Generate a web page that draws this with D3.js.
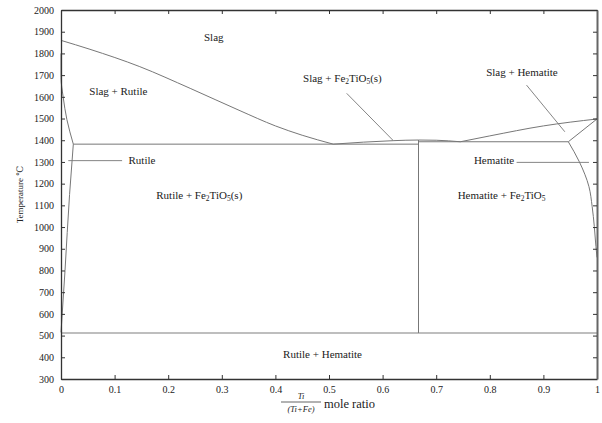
<!DOCTYPE html>
<html>
<head>
<meta charset="utf-8">
<script src="https://cdn.jsdelivr.net/npm/d3@7"></script>
<style>
  html, body { margin: 0; padding: 0; background: #fff; }
  svg { display: block; }
  svg text { font-family: "Liberation Serif", "DejaVu Serif", serif !important; fill: #222; }
</style>
</head>
<body>
<svg id="chart" width="602" height="423"></svg>
<script>
// Fe2O3–TiO2 phase diagram: x = Ti/(Ti+Fe) mole ratio, y = temperature (°C)

const xTickValues = [0, 0.1, 0.2, 0.3, 0.4, 0.5, 0.6, 0.7, 0.8, 0.9, 1];
const xTickLabels = ["0", "0.1", "0.2", "0.3", "0.4", "0.5", "0.6", "0.7", "0.8", "0.9", "1"];
const yTickValues = [300, 400, 500, 600, 700, 800, 900, 1000, 1100, 1200, 1300, 1400, 1500, 1600, 1700, 1800, 1900, 2000];

// Liquidus on the rutile side, down to the eutectic
const liquidusRutile = [[0, 1860], [0.054, 1819], [0.147, 1739], [0.241, 1639], [0.334, 1536], [0.4, 1466], [0.45, 1423], [0.508, 1382]];
// Liquidus across Fe2TiO5 and up to pure hematite
const liquidusMid = [[0.508, 1382], [0.62, 1398], [0.667, 1401], [0.70, 1400], [0.745, 1393]];
const liquidusHematite = [[0.745, 1393], [0.8, 1420], [0.9, 1466], [1.0, 1498]];
// Rutile solid solution boundary
const rutileUpper = [[0, 1800], [0, 1690], [0.004, 1600], [0.011, 1495], [0.023, 1382]];
const rutileLower = [[0.023, 1382], [0.0205, 1300], [0.016, 1150], [0.0075, 800], [0, 515]];
// Hematite solid solution boundary
const hematiteUpper = [[0.9465, 1393], [1.0, 1498]];
const hematiteLower = [[0.9465, 1393], [0.967, 1301], [0.985, 1186], [0.991, 1094], [0.995, 1002], [0.998, 910], [1.0, 860]];
// Invariant lines
const isoRutile = [[0.023, 1382], [0.667, 1382]];
const isoHematite = [[0.667, 1393], [0.9465, 1393]];
const fe2tio5Line = [[0.667, 1401], [0.667, 512]];
const lowIso = [[0, 512], [1, 512]];

// Region labels; parts are [text, isSubscript]
const regionLabels = [
  { x: 0.285, T: 1871, parts: [["Slag", false]] },
  { x: 0.107, T: 1622, parts: [["Slag + Rutile", false]] },
  { x: 0.525, T: 1680, parts: [["Slag + Fe", false], ["2", true], ["TiO", false], ["5", true], ["(s)", false]] },
  { x: 0.86, T: 1712, parts: [["Slag + Hematite", false]] },
  { x: 0.151, T: 1306, parts: [["Rutile", false]] },
  { x: 0.808, T: 1306, parts: [["Hematite", false]] },
  { x: 0.258, T: 1143, parts: [["Rutile + Fe", false], ["2", true], ["TiO", false], ["5", true], ["(s)", false]] },
  { x: 0.822, T: 1143, parts: [["Hematite + Fe", false], ["2", true], ["TiO", false], ["5", true]] },
  { x: 0.488, T: 412, parts: [["Rutile + Hematite", false]] }
];
// Leader lines from labels to their regions
const leaders = [
  [[0.0136, 1306], [0.114, 1306]],
  [[0.85, 1298], [0.985, 1298]],
  [[0.533, 1616], [0.620, 1398]],
  [[0.8685, 1654], [0.940, 1439]]
];

const svg = d3.select("#chart");
const x = d3.scaleLinear().domain([0, 1]).range([61, 597]);
const y = d3.scaleLinear().domain([300, 2000]).range([379, 10]);

const line = d3.line().x(d => x(d[0])).y(d => y(d[1]));
const smoothX = d3.line().x(d => x(d[0])).y(d => y(d[1])).curve(d3.curveMonotoneX);
const smoothY = d3.line().x(d => x(d[0])).y(d => y(d[1])).curve(d3.curveMonotoneY);

const g = svg.append("g").attr("fill", "none");
function path(data, gen, stroke, width) {
  g.append("path").datum(data).attr("d", gen).attr("stroke", stroke).attr("stroke-width", width).attr("fill", "none");
}

// Phase boundaries
const lineColor = "#777";
path(lowIso, line, "#a8a8a8", 1.5);
path(isoRutile, line, lineColor, 1);
path(isoHematite, line, lineColor, 1);
path(fe2tio5Line, line, lineColor, 1);
path(liquidusRutile, smoothX, lineColor, 1);
path(liquidusMid, smoothX, lineColor, 1);
path(liquidusHematite, smoothX, lineColor, 1);
path(rutileUpper, smoothY, lineColor, 1);
path(rutileLower, smoothY, lineColor, 1);
path(hematiteUpper, line, lineColor, 1);
path(hematiteLower, smoothY, lineColor, 1);
leaders.forEach(l => path(l, line, lineColor, 0.9));

// Axes with inward ticks on all four sides
const tickLen = -4;
const axisColor = "#333";
const axisB = svg.append("g").attr("transform", `translate(0,${y(300)})`)
  .call(d3.axisBottom(x).tickValues(xTickValues).tickFormat((d, i) => xTickLabels[i]).tickSizeInner(tickLen).tickSizeOuter(0).tickPadding(7));
const axisL = svg.append("g").attr("transform", `translate(${x(0)},0)`)
  .call(d3.axisLeft(y).tickValues(yTickValues).tickFormat(d3.format("d")).tickSizeInner(tickLen).tickSizeOuter(0).tickPadding(7));
const axisT = svg.append("g").attr("transform", `translate(0,${y(2000)})`)
  .call(d3.axisTop(x).tickValues(xTickValues).tickFormat("").tickSizeInner(tickLen).tickSizeOuter(0));
const axisR = svg.append("g").attr("transform", `translate(${x(1)},0)`)
  .call(d3.axisRight(y).tickValues(yTickValues).tickFormat("").tickSizeInner(tickLen).tickSizeOuter(0));
[axisB, axisL, axisT, axisR].forEach(a => {
  a.attr("font-family", null);
  a.selectAll("path.domain").attr("stroke", axisColor).attr("stroke-width", 1.3);
  a.selectAll(".tick line").attr("stroke", axisColor).attr("stroke-width", 1);
  a.selectAll(".tick text").attr("font-size", 10).attr("fill", "#222");
});
axisR.selectAll("path.domain").attr("stroke", "#666").attr("stroke-width", 2);

// Region labels
const labelGroup = svg.append("g");
regionLabels.forEach(r => {
  const t = labelGroup.append("text")
    .attr("x", x(r.x)).attr("y", y(r.T))
    .attr("text-anchor", "middle").attr("dominant-baseline", "middle")
    .attr("font-size", 11);
  r.parts.forEach(([s, sub], i) => {
    const prevSub = i > 0 && r.parts[i - 1][1];
    t.append("tspan").text(s)
      .attr("font-size", sub ? 7.5 : 11)
      .attr("dy", sub ? 2.5 : (prevSub ? -2.5 : 0));
  });
});

// Y axis title
svg.append("text")
  .attr("transform", `translate(21,${y(1150)}) rotate(-90)`)
  .attr("text-anchor", "middle").attr("dominant-baseline", "middle")
  .attr("font-size", 9).text("Temperature ℃");

// X axis title: Ti/(Ti+Fe) fraction followed by "mole ratio"
const fracX = 301;
svg.append("text").attr("x", fracX).attr("y", 399).attr("text-anchor", "middle")
  .attr("font-size", 8.5).attr("font-style", "italic").text("Ti");
svg.append("line").attr("x1", fracX - 20).attr("x2", fracX + 20).attr("y1", 402).attr("y2", 402)
  .attr("stroke", "#222").attr("stroke-width", 0.7);
svg.append("text").attr("x", fracX).attr("y", 412).attr("text-anchor", "middle")
  .attr("font-size", 8.5).attr("font-style", "italic").text("(Ti+Fe)");
svg.append("text").attr("x", fracX + 23).attr("y", 405).attr("dominant-baseline", "middle")
  .attr("font-size", 12.5).text("mole ratio");
</script>
</body>
</html>
